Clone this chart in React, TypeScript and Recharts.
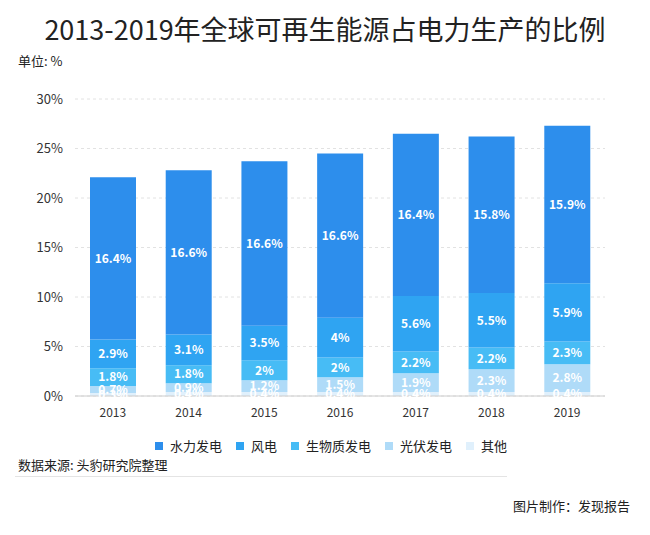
import * as React from 'react'
import { BarChart, Bar, XAxis, YAxis, CartesianGrid, LabelList } from 'recharts'

const years = ['2013', '2014', '2015', '2016', '2017', '2018', '2019']
const hydro = [16.4, 16.6, 16.6, 16.6, 16.4, 15.8, 15.9]
const wind = [2.9, 3.1, 3.5, 4, 5.6, 5.5, 5.9]
const biomass = [1.8, 1.8, 2, 2, 2.2, 2.2, 2.3]
const solar = [0.7, 0.9, 1.2, 1.5, 1.9, 2.3, 2.8]
const other = [0.3, 0.4, 0.4, 0.4, 0.4, 0.4, 0.4]
const yTicks = [0, 5, 10, 15, 20, 25, 30]

// stacked bottom to top
const SERIES = [
  { key: 'other', name: '其他', values: other, color: '#e0f0fc' },
  { key: 'solar', name: '光伏发电', values: solar, color: '#afdbf8' },
  { key: 'biomass', name: '生物质发电', values: biomass, color: '#47bcf5' },
  { key: 'wind', name: '风电', values: wind, color: '#2fa4f2' },
  { key: 'hydro', name: '水力发电', values: hydro, color: '#2d8eec' },
]

const FONT = '"Noto Sans CJK SC", "Noto Sans", sans-serif'

const data = years.map((year, i) => {
  const row: Record<string, string | number> = { year }
  SERIES.forEach((s) => {
    row[s.key] = s.values[i]
  })
  return row
})

export default function App() {
  const legendItems = [...SERIES].reverse()
  return (
    <div
      style={{
        position: 'absolute',
        left: 0,
        top: 0,
        width: 650,
        height: 535,
        background: '#fff',
        fontFamily: FONT,
        color: '#222',
      }}
    >
      <div
        style={{
          position: 'absolute',
          top: 10,
          width: 650,
          textAlign: 'center',
          fontSize: 27,
          lineHeight: '38px',
        }}
      >
        2013-2019年全球可再生能源占电力生产的比例
      </div>
      <div style={{ position: 'absolute', left: 18, top: 51, fontSize: 13 }}>单位: %</div>
      <div style={{ position: 'absolute', left: 0, top: 0 }}>
        <BarChart
          width={650}
          height={430}
          data={data}
          margin={{ top: 99, right: 45, left: 0, bottom: 4 }}
          barSize={46}
        >
          <CartesianGrid vertical={false} stroke='#e2e2e2' strokeDasharray='3 3' />
          <XAxis
            dataKey='year'
            tickLine={false}
            axisLine={{ stroke: '#cccccc' }}
            tick={{ fill: '#333', fontSize: 12, fontFamily: FONT }}
            tickMargin={6}
          />
          <YAxis
            width={75}
            domain={[0, 30]}
            ticks={yTicks}
            tickFormatter={(v) => `${v}%`}
            axisLine={false}
            tickLine={false}
            tick={{ fill: '#333', fontSize: 13, fontFamily: FONT }}
            tickMargin={6}
          />
          {SERIES.map((s) => (
            <Bar key={s.key} dataKey={s.key} stackId='a' fill={s.color} isAnimationActive={false}>
              <LabelList
                dataKey={s.key}
                position='center'
                formatter={(v: number) => `${v}%`}
                fill='#fff'
                fontSize={12}
                fontWeight='bold'
                fontFamily={FONT}
              />
            </Bar>
          ))}
        </BarChart>
      </div>
      <div
        style={{
          position: 'absolute',
          left: 155,
          top: 436,
          display: 'flex',
          alignItems: 'center',
          fontSize: 13,
        }}
      >
        {legendItems.map((s) => (
          <div key={s.key} style={{ display: 'flex', alignItems: 'center', marginRight: 14 }}>
            <span
              style={{ width: 8, height: 8, background: s.color, display: 'inline-block', marginRight: 7 }}
            />
            <span>{s.name}</span>
          </div>
        ))}
      </div>
      <div style={{ position: 'absolute', left: 18, top: 455, fontSize: 13 }}>数据来源: 头豹研究院整理</div>
      <div
        style={{ position: 'absolute', left: 15, top: 476, width: 492, height: 1, background: '#e4e4e4' }}
      />
      <div style={{ position: 'absolute', right: 20, top: 496, fontSize: 13 }}>图片制作：发现报告</div>
    </div>
  )
}
